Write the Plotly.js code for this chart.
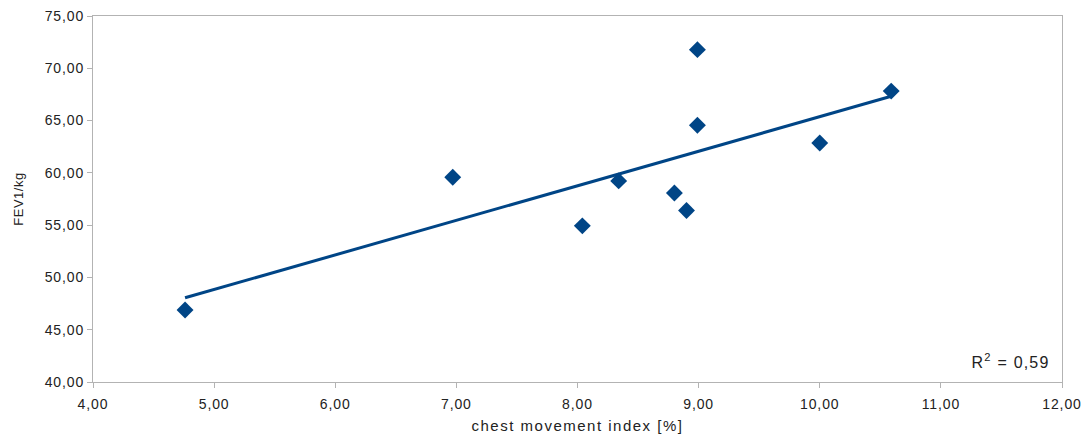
<!DOCTYPE html>
<html>
<head>
<meta charset="utf-8">
<script src="https://cdn.plot.ly/plotly-3.0.1.min.js"></script>
<style>
  html, body { margin: 0; padding: 0; background: #fff; }
  #chart { width: 1088px; height: 437px; }
  /* the spreadsheet renders its text rather loosely spaced */
  #chart .xtick text, #chart .ytick text { letter-spacing: 0.9px; }
  #chart .xtitle { letter-spacing: 1.5px; }
  #chart .ytitle { letter-spacing: 0.5px; }
  #chart .annotation-text { letter-spacing: 1.2px; }
</style>
</head>
<body>
<div id="chart"></div>
<script>
    // chest movement index [%] vs FEV1/kg
    const chestIndex = [4.76, 6.97, 8.04, 8.34, 8.80, 8.90, 8.99, 8.99, 10.00, 10.59];
    const fev1PerKg = [46.88, 59.58, 54.93, 59.23, 58.08, 56.40, 71.78, 64.55, 62.86, 67.82];

    const BLUE = '#004586';
    const AXIS = '#b3b3b3';

    // linear trend (least squares) like the spreadsheet trendline
    function linearFit(xs, ys) {
        const n = xs.length;
        const mx = xs.reduce((a, b) => a + b, 0) / n;
        const my = ys.reduce((a, b) => a + b, 0) / n;
        let sxy = 0, sxx = 0, syy = 0;
        for (let i = 0; i < n; i++) {
            sxy += (xs[i] - mx) * (ys[i] - my);
            sxx += (xs[i] - mx) * (xs[i] - mx);
            syy += (ys[i] - my) * (ys[i] - my);
        }
        const slope = sxy / sxx;
        return { slope: slope, intercept: my - slope * mx, r2: (sxy * sxy) / (sxx * syy) };
    }

    const fit = linearFit(chestIndex, fev1PerKg);
    const xMin = Math.min(...chestIndex);
    const xMax = Math.max(...chestIndex);
    const trendX = [xMin, xMax];
    const trendY = trendX.map(x => fit.intercept + fit.slope * x);

    const points = {
        x: chestIndex,
        y: fev1PerKg,
        type: 'scatter',
        mode: 'markers',
        marker: { symbol: 'diamond', size: 13, color: BLUE },
        hoverinfo: 'x+y',
    };

    const trend = {
        x: trendX,
        y: trendY,
        type: 'scatter',
        mode: 'lines',
        line: { color: BLUE, width: 3 },
        hoverinfo: 'skip',
    };

    const layout = {
        width: 1088,
        height: 437,
        paper_bgcolor: '#fff',
        plot_bgcolor: '#fff',
        separators: ',.',
        font: { family: 'Liberation Sans, Arial, sans-serif', size: 14, color: '#222' },
        margin: { l: 93, r: 26, t: 16, b: 55 },
        showlegend: false,
        xaxis: {
            range: [4, 12],
            dtick: 1,
            tick0: 4,
            tickformat: '.2f',
            showgrid: false,
            zeroline: false,
            showline: true,
            linecolor: AXIS,
            linewidth: 1,
            mirror: true,
            ticks: 'outside',
            ticklen: 5,
            tickcolor: AXIS,
            ticklabelstandoff: 4,
            title: { text: 'chest movement index [%]', standoff: 9, font: { size: 15 } },
        },
        yaxis: {
            range: [40, 75],
            dtick: 5,
            tick0: 40,
            tickformat: '.2f',
            showgrid: false,
            zeroline: false,
            showline: true,
            linecolor: AXIS,
            linewidth: 1,
            mirror: true,
            ticks: 'outside',
            ticklen: 5,
            tickcolor: AXIS,
            title: { text: 'FEV1/kg', standoff: 22, font: { size: 13 } },
        },
        annotations: [{
            xref: 'paper', yref: 'paper',
            x: 0.984, y: 0.025,
            xanchor: 'right', yanchor: 'bottom',
            text: 'R<sup>2</sup> = ' + fit.r2.toFixed(2).replace('.', ','),
            showarrow: false,
            font: { size: 16, color: '#222' },
        }],
    };

    Plotly.newPlot('chart', [trend, points], layout, { staticPlot: true });
</script>
</body>
</html>
